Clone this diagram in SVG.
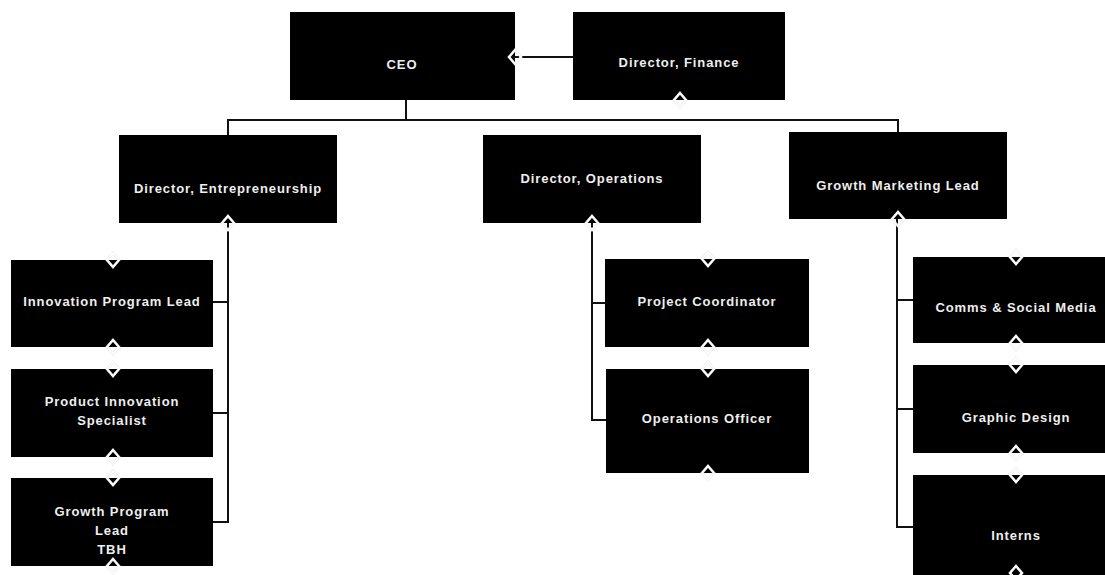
<svg xmlns="http://www.w3.org/2000/svg" width="1105" height="575" viewBox="0 0 1105 575">
<style>
.box{fill:#000;}
.t{fill:#eee;font-family:"Liberation Sans",Arial,sans-serif;font-size:13px;font-weight:bold;letter-spacing:0.9px;text-anchor:middle;}
.ln{fill:none;stroke:#111;stroke-width:2;}
.dm{fill:none;stroke:#fff;stroke-width:1.5;}
.dmo{fill:none;stroke:#e6e6e6;stroke-width:2.6;}
</style>
<defs>
<path id="d" d="M0,-7 L6,0 L0,7 L-6,0 Z"/>
</defs>
<rect width="1105" height="575" fill="#fff"/>
<g id="connectors">
<path class="ln" d="M573,57 H515"/>
<path class="ln" d="M406,100 V120 H228 V135"/>
<path class="ln" d="M406,120 H898 V132"/>
<path class="ln" d="M228,223 V522 H213 M228,302 H213 M228,413 H213"/>
<path class="ln" d="M592,223 V420 H606 M592,303 H605"/>
<path class="ln" d="M897,219 V527 H913 M897,300 H913 M897,409 H913"/>
</g>
<g id="ceo"><rect class="box" x="290" y="12" width="225" height="88"/><text class="t" x="402" y="69">CEO</text></g>
<g id="finance"><rect class="box" x="573" y="12" width="212" height="88"/><text class="t" x="679" y="67">Director, Finance</text></g>
<g id="dir-ent"><rect class="box" x="119" y="135" width="218" height="88"/><text class="t" x="228" y="193">Director, Entrepreneurship</text></g>
<g id="dir-ops"><rect class="box" x="483" y="135" width="218" height="88"/><text class="t" x="592" y="183">Director, Operations</text></g>
<g id="growth-mkt"><rect class="box" x="789" y="132" width="218" height="87"/><text class="t" x="898" y="190">Growth Marketing Lead</text></g>
<g id="innovation-lead"><rect class="box" x="11" y="260" width="202" height="87"/><text class="t" x="112" y="306">Innovation Program Lead</text></g>
<g id="product-spec"><rect class="box" x="11" y="369" width="202" height="88"/><text class="t" x="112" y="406">Product Innovation</text><text class="t" x="112" y="425">Specialist</text></g>
<g id="growth-prog"><rect class="box" x="11" y="478" width="202" height="88"/><text class="t" x="112" y="516">Growth Program</text><text class="t" x="112" y="535">Lead</text><text class="t" x="112" y="554">TBH</text></g>
<g id="project-coord"><rect class="box" x="605" y="259" width="204" height="88"/><text class="t" x="707" y="306">Project Coordinator</text></g>
<g id="ops-officer"><rect class="box" x="606" y="369" width="203" height="104"/><text class="t" x="707" y="423">Operations Officer</text></g>
<g id="comms"><rect class="box" x="913" y="257" width="192" height="86"/><text class="t" x="1016" y="312">Comms &amp; Social Media</text></g>
<g id="graphic"><rect class="box" x="913" y="365" width="192" height="88"/><text class="t" x="1016" y="422">Graphic Design</text></g>
<g id="interns"><rect class="box" x="913" y="475" width="192" height="100"/><text class="t" x="1016" y="540">Interns</text></g>
<g id="markers">
<g class="dmo">
<use href="#d" x="515" y="57"/><use href="#d" x="680" y="100"/><use href="#d" x="228" y="223"/><use href="#d" x="592" y="223"/><use href="#d" x="898" y="219"/>
<use href="#d" x="113" y="260"/><use href="#d" x="113" y="347"/><use href="#d" x="113" y="369"/><use href="#d" x="113" y="457"/><use href="#d" x="113" y="478"/><use href="#d" x="113" y="566"/>
<use href="#d" x="708" y="259"/><use href="#d" x="708" y="347"/><use href="#d" x="708" y="369"/><use href="#d" x="708" y="473"/>
<use href="#d" x="1016" y="257"/><use href="#d" x="1016" y="343"/><use href="#d" x="1016" y="365"/><use href="#d" x="1016" y="453"/><use href="#d" x="1016" y="475"/><use href="#d" x="1016" y="573"/>
</g>
<g class="dm">
<use href="#d" x="515" y="57"/><use href="#d" x="680" y="100"/><use href="#d" x="228" y="223"/><use href="#d" x="592" y="223"/><use href="#d" x="898" y="219"/>
<use href="#d" x="113" y="260"/><use href="#d" x="113" y="347"/><use href="#d" x="113" y="369"/><use href="#d" x="113" y="457"/><use href="#d" x="113" y="478"/><use href="#d" x="113" y="566"/>
<use href="#d" x="708" y="259"/><use href="#d" x="708" y="347"/><use href="#d" x="708" y="369"/><use href="#d" x="708" y="473"/>
<use href="#d" x="1016" y="257"/><use href="#d" x="1016" y="343"/><use href="#d" x="1016" y="365"/><use href="#d" x="1016" y="453"/><use href="#d" x="1016" y="475"/><use href="#d" x="1016" y="573"/>
</g>
</g>
</svg>
